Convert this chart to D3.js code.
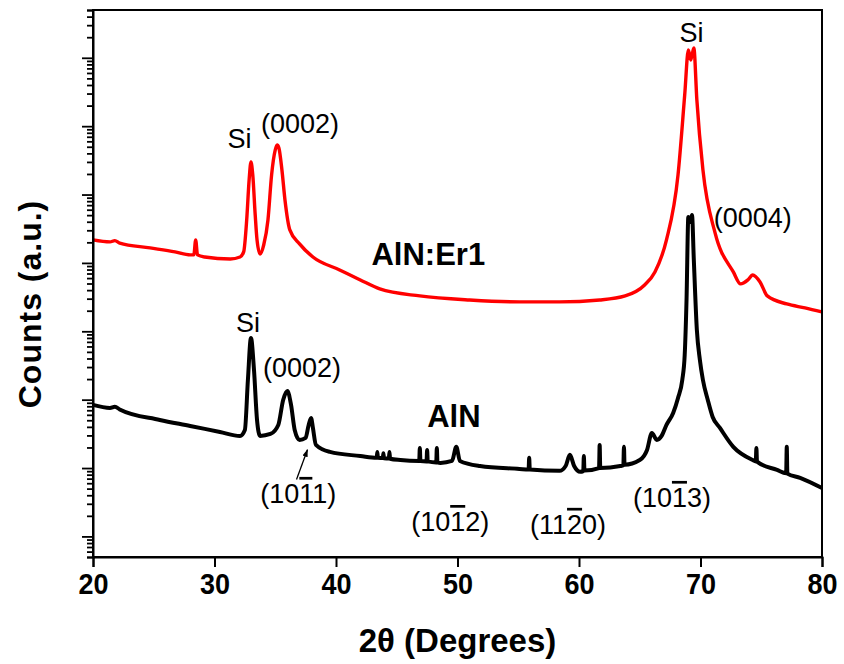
<!DOCTYPE html>
<html>

<head>
  <meta charset='utf-8'>
  <style>
    body { margin: 0; background: #fff; }
    svg { display: block; }
    .lbl { font-family: Arial, "Liberation Sans", sans-serif; font-size: 27px; }
    .bold { font-family: Arial, "Liberation Sans", sans-serif; font-weight: bold; }
  </style>
  <script src="https://cdn.jsdelivr.net/npm/d3@7"></script>
</head>

<body>
  <script>
    // 2θ (deg), counts (a.u.)
    const erDoped = [
      [20.0, 2.17e5], [21.4, 2.03e5], [21.8, 2.12e5], [22.2, 1.95e5], [24.7, 1.66e5],
      [26.75, 1.45e5], [28.0, 1.31e5], [28.3, 1.31e5], [28.45, 2.17e5], [28.6, 1.31e5],
      [29.2, 1.22e5], [31.3, 1.14e5], [32.1, 1.22e5], [32.4, 1.45e5], [32.65, 4.25e5],
      [32.85, 1.64e6], [33.0, 3.0e6], [33.15, 1.94e6], [33.35, 5.03e5], [33.5, 2.17e5],
      [33.75, 1.35e5], [34.05, 1.83e5], [34.4, 4.25e5], [34.7, 1.94e6], [35.0, 4.49e6],
      [35.15, 5.32e6], [35.3, 4.81e6], [35.55, 2.29e6], [35.8, 8.34e5], [36.2, 3.04e5],
      [37.0, 1.90e5], [38.1, 1.22e5], [40.3, 7.9e4], [42.0, 5.64e4], [43.6, 4.16e4],
      [46.9, 3.29e4], [51.0, 2.87e4], [55.1, 2.69e4], [58.4, 2.69e4], [61.7, 2.87e4],
      [63.8, 3.29e4], [65.4, 4.76e4], [66.25, 7.38e4], [67.2, 2.17e5], [68.15, 1.94e6],
      [68.7, 2.86e7], [69.0, 1.30e8], [69.2, 9.3e7], [69.45, 1.39e8], [69.7, 2.42e7],
      [70.2, 2.29e6], [71.2, 2.75e5], [72.7, 7.38e4], [73.3, 4.93e4], [73.9, 5.64e4],
      [74.3, 6.67e4], [74.9, 5.27e4], [75.5, 3.29e4], [77.1, 2.51e4], [78.6, 2.20e4],
      [80.0, 1.92e4]
    ];

    const undoped = [
      [20.0, 838], [21.4, 757], [21.8, 790], [22.2, 720], [25.5, 505], [28.0, 413],
      [30.45, 337], [32.1, 295], [32.5, 361], [32.75, 1940], [33.0, 8000], [33.25, 2720],
      [33.5, 505], [33.75, 295], [34.6, 315], [35.25, 427], [35.65, 991], [36.0, 1340],
      [36.3, 838], [36.6, 361], [37.0, 258], [37.5, 276], [37.75, 427], [37.95, 541],
      [38.1, 386], [38.35, 218], [39.5, 172], [42.0, 150],
      [43.35, 141], [43.4, 172], [43.45, 141], [43.85, 140], [43.9, 165], [43.95, 139],
      [44.35, 138], [44.4, 172], [44.45, 137], [45.3, 131],
      [46.85, 127], [46.9, 197], [46.95, 127], [47.45, 125], [47.5, 184], [47.55, 125],
      [48.25, 121], [48.3, 197], [48.35, 121], [48.6, 119],
      [49.55, 127], [49.9, 204], [50.2, 127], [51.85, 107], [55.1, 97],
      [55.85, 95], [55.9, 141], [55.95, 95], [58.4, 91], [58.9, 107], [59.25, 156],
      [59.6, 107], [60.1, 88], [60.35, 90], [60.4, 150], [60.45, 92],
      [61.65, 100], [61.7, 218], [61.75, 100], [63.4, 107], [63.65, 110], [63.7, 204],
      [63.75, 112], [65.0, 131], [65.6, 184], [66.0, 326], [66.4, 258], [66.8, 295],
      [67.2, 427], [67.75, 640], [68.15, 1060], [68.5, 1940], [68.7, 4510], [68.85, 28700],
      [69.0, 471000], [69.15, 398000], [69.3, 503000], [69.45, 111000], [69.7, 10500],
      [69.95, 3810], [70.2, 1940], [70.6, 991], [71.0, 559], [71.6, 386], [72.7, 204],
      [74.3, 131], [74.55, 125], [74.6, 197], [74.65, 124], [76.3, 94],
      [77.05, 84], [77.1, 204], [77.15, 83], [78.2, 72], [80.0, 51]
    ];

    const xTicks = [20, 30, 40, 50, 60, 70, 80];
    const xMinorTicks = d3.range(20, 81, 2);

    // peak labels: text ("-d" = overlined digit), anchor in 2θ / counts
    const peakLabels = [
      ["Si", 32.06, 4.81e6], ["(0002)", 37.04, 7.96e6], ["Si", 69.26, 1.71e8],
      ["(0004)", 74.3, 3.3e5], ["Si", 32.76, 9.8e3], ["(0002)", 37.2, 2.15e3],
      ["(10-11)", 36.9, 30.9], ["(10-12)", 49.4, 12.0], ["(11-20)", 59.1, 10.9],
      ["(10-13)", 67.65, 27.0]
    ];
    const sampleLabels = [["AlN:Er1", 47.6, 9.35e4], ["AlN", 49.7, 399]];
    const arrowFrom = [36.75, 68], arrowTo = [37.65, 185];

    const [width, height] = [844, 664];
    const margin = { top: 10, right: 22, bottom: 107, left: 93 };

    const svg = d3.select("body").append("svg")
      .attr("width", width).attr("height", height)
      .attr("viewBox", [0, 0, width, height]);

    const x = d3.scaleLinear([20, 80], [margin.left, width - margin.right]);
    const y = d3.scaleLog([5, 5e8], [height - margin.bottom, margin.top]);

    svg.append("defs").append("marker")
      .attr("id", "arr").attr("viewBox", "0 0 10 10")
      .attr("refX", 9).attr("refY", 5)
      .attr("markerWidth", 6).attr("markerHeight", 6)
      .attr("orient", "auto")
      .append("path").attr("d", "M0,1.5L10,5L0,8.5Z").attr("fill", "#000");

    const line = d3.line()
      .x(d => x(d[0])).y(d => y(d[1]))
      .curve(d3.curveMonotoneX);

    svg.append("path").datum(undoped)
      .attr("fill", "none").attr("stroke", "#000")
      .attr("stroke-width", 4).attr("stroke-linejoin", "round")
      .attr("d", line);

    svg.append("path").datum(erDoped)
      .attr("fill", "none").attr("stroke", "#f00")
      .attr("stroke-width", 3.4).attr("stroke-linejoin", "round")
      .attr("d", line);

    // frame
    svg.append("rect")
      .attr("x", margin.left).attr("y", margin.top)
      .attr("width", width - margin.left - margin.right)
      .attr("height", height - margin.top - margin.bottom)
      .attr("fill", "none").attr("stroke", "#000").attr("stroke-width", 2);

    // x axis
    const gx = svg.append("g")
      .attr("transform", `translate(0,${height - margin.bottom})`);
    gx.call(d3.axisBottom(x).tickValues(xMinorTicks).tickSize(6).tickFormat(""));
    gx.call(d3.axisBottom(x).tickValues(xTicks).tickSize(10).tickPadding(6));
    gx.selectAll(".domain").attr("stroke-width", 2);
    gx.selectAll(".tick line").attr("stroke-width", 2);
    gx.selectAll("text").attr("class", "bold")
      .attr("font-size", 30).attr("fill", "#000")
      .attr("transform", "scale(0.9,1)");

    // y axis, log ticks without labels
    const yTicks = y.ticks();
    const isDecade = v => Math.abs(Math.log10(v) - Math.round(Math.log10(v))) < 1e-6;
    const gy = svg.append("g")
      .attr("transform", `translate(${margin.left},0)`);
    gy.call(d3.axisLeft(y).tickValues(yTicks).tickFormat("").tickSize(6));
    gy.selectAll(".tick line")
      .attr("x2", d => isDecade(d) ? -11 : -6)
      .attr("stroke-width", 1.8);
    gy.select(".domain").attr("stroke-width", 2);

    // titles
    svg.append("text").attr("class", "bold")
      .attr("x", x(50)).attr("y", 652)
      .attr("text-anchor", "middle").attr("font-size", 33)
      .text("2θ (Degrees)");
    svg.append("text").attr("class", "bold")
      .attr("transform", "translate(41,304) rotate(-90)")
      .attr("text-anchor", "middle").attr("font-size", 32)
      .attr("letter-spacing", 1)
      .text("Counts (a.u.)");

    // annotations
    const gl = svg.append("g").attr("class", "lbl").attr("text-anchor", "middle");
    peakLabels.forEach(([s, t, c]) => {
      const txt = gl.append("text").attr("x", x(t)).attr("y", y(c));
      s.split(/(-\d)/).filter(p => p).forEach(p => {
        if (p[0] === "-") txt.append("tspan").style("text-decoration", "overline").text(p[1]);
        else txt.append("tspan").text(p);
      });
    });
    sampleLabels.forEach(([s, t, c]) => {
      svg.append("text").attr("class", "bold")
        .attr("x", x(t)).attr("y", y(c))
        .attr("text-anchor", "middle").attr("font-size", 31)
        .text(s);
    });
    svg.append("line")
      .attr("x1", x(arrowFrom[0])).attr("y1", y(arrowFrom[1]))
      .attr("x2", x(arrowTo[0])).attr("y2", y(arrowTo[1]))
      .attr("stroke", "#000").attr("stroke-width", 1.3)
      .attr("marker-end", "url(#arr)");
  </script>
</body>

</html>
